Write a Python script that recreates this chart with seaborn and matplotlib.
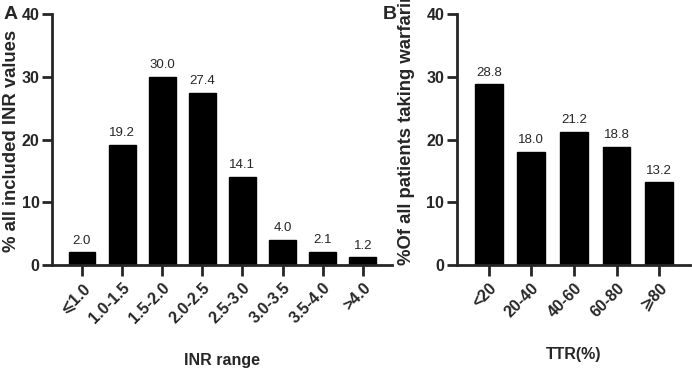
import matplotlib
matplotlib.use("Agg")
import matplotlib.pyplot as plt
import seaborn as sns
import pandas as pd

# panel A: distribution of INR values
inr_ranges = ["⩽1.0", "1.0-1.5", "1.5-2.0", "2.0-2.5", "2.5-3.0", "3.0-3.5", "3.5-4.0", ">4.0"]
inr_pct = [2.0, 19.2, 30.0, 27.4, 14.1, 4.0, 2.1, 1.2]

# panel B: TTR of patients taking warfarin
ttr_ranges = ["<20", "20-40", "40-60", "60-80", "⩾80"]
ttr_pct = [28.8, 18.0, 21.2, 18.8, 13.2]

sns.set_style("ticks")
plt.rcParams['font.family'] = ['Liberation Sans', 'DejaVu Sans']

fig = plt.figure(figsize=(6.92, 3.74), dpi=100)
axA = fig.add_axes([0.075, 0.2914, 0.491, 0.6712])
axB = fig.add_axes([0.660, 0.2914, 0.337, 0.6712])

df_a = pd.DataFrame({"range": inr_ranges, "pct": inr_pct})
df_b = pd.DataFrame({"range": ttr_ranges, "pct": ttr_pct})

sns.barplot(data=df_a, x="range", y="pct", color="black", width=0.67, ax=axA)
sns.barplot(data=df_b, x="range", y="pct", color="black", width=0.65, ax=axB)

panels = [
    (axA, inr_ranges, inr_pct, "INR range", "% all included INR values", -0.094, 0.494, -0.35),
    (axB, ttr_ranges, ttr_pct, "TTR(%)", "%Of all patients taking warfarin", -0.18, 0.548, -0.325),
]
for ax, labels, vals, xlab, ylab, ylx, yly, xly in panels:
    for p in ax.patches:
        p.set_facecolor("black")
        p.set_edgecolor("black")
    for i, v in enumerate(vals):
        ax.text(i, v + 0.9, f"{v:.1f}", ha="center", va="bottom", fontsize=9.5)
    ax.set_ylim(0, 40)
    ax.set_yticks([0, 10, 20, 30, 40])
    ax.set_xlim(-0.75, len(vals) - 0.28)
    ax.set_xticks(range(len(labels)))
    ax.set_xticklabels(labels, rotation=45, ha="right", rotation_mode="anchor",
                       fontsize=11.5, fontweight="bold")
    for t in ax.get_yticklabels():
        t.set_fontsize(11.5)
        t.set_fontweight("bold")
    ax.tick_params(axis="y", length=7, width=2, pad=2)
    ax.tick_params(axis="x", length=8, width=2, pad=3)
    ax.set_xlabel(xlab, fontsize=11.5, fontweight="bold")
    ax.set_ylabel(ylab, fontsize=13.3, fontweight="bold")
    ax.xaxis.set_label_coords(0.5, xly)
    ax.yaxis.set_label_coords(ylx, yly)
    sns.despine(ax=ax)
    for s in ["left", "bottom"]:
        ax.spines[s].set_linewidth(2)

fig.text(0.005, 0.985, "A", fontsize=14, fontweight="bold", va="top")
fig.text(0.553, 0.985, "B", fontsize=14, fontweight="bold", va="top")

fig.savefig("out.png", dpi=100)
